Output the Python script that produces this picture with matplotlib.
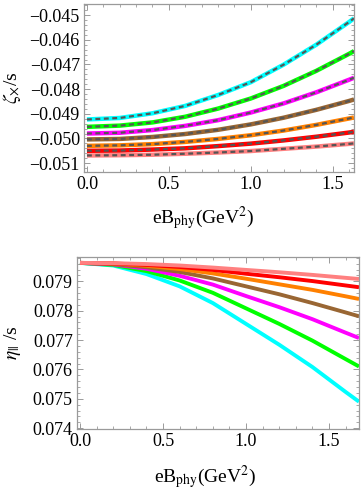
import matplotlib
matplotlib.use("Agg")
import matplotlib.pyplot as plt
from matplotlib.ticker import MultipleLocator, FuncFormatter

plt.rcParams['font.family'] = ['Liberation Serif', 'DejaVu Serif']
plt.rcParams['mathtext.fontset'] = 'stix'

# ---- data: top panel (zeta_x / s) ----
x_top = [0.0, 0.2, 0.4, 0.6, 0.8, 1.0, 1.2, 1.4, 1.6, 1.63]
zeta_pink    = [-0.05069, -0.05068, -0.05066, -0.05062, -0.05057, -0.05051, -0.05042, -0.05033, -0.05022, -0.05020]
zeta_red     = [-0.05050, -0.05049, -0.05045, -0.05040, -0.05031, -0.05021, -0.05008, -0.04993, -0.04976, -0.04973]
zeta_orange  = [-0.05030, -0.05028, -0.05023, -0.05014, -0.05002, -0.04987, -0.04968, -0.04945, -0.04919, -0.04915]
zeta_brown   = [-0.05004, -0.05002, -0.04994, -0.04982, -0.04965, -0.04943, -0.04916, -0.04884, -0.04848, -0.04842]
zeta_magenta = [-0.04980, -0.04977, -0.04966, -0.04949, -0.04926, -0.04895, -0.04858, -0.04813, -0.04762, -0.04754]
zeta_green   = [-0.04953, -0.04948, -0.04935, -0.04912, -0.04879, -0.04838, -0.04787, -0.04726, -0.04657, -0.04646]
zeta_cyan    = [-0.04923, -0.04917, -0.04898, -0.04868, -0.04824, -0.04772, -0.04701, -0.04620, -0.04528, -0.04513]

# ---- data: bottom panel (eta_par / s) ----
x_bot = [0.0, 0.2, 0.4, 0.6, 0.8, 1.0, 1.2, 1.4, 1.6, 1.68]
eta_pink    = [0.07963, 0.07962, 0.07959, 0.07954, 0.07947, 0.07939, 0.07931, 0.07922, 0.07912, 0.07908]
eta_red     = [0.07963, 0.07961, 0.07956, 0.07949, 0.07939, 0.07926, 0.07914, 0.07901, 0.07886, 0.07880]
eta_orange  = [0.07963, 0.07961, 0.07953, 0.07942, 0.07927, 0.07909, 0.07890, 0.07871, 0.07849, 0.07840]
eta_brown   = [0.07963, 0.07959, 0.07948, 0.07932, 0.07910, 0.07883, 0.07856, 0.07826, 0.07794, 0.07781]
eta_magenta = [0.07963, 0.07958, 0.07943, 0.07919, 0.07889, 0.07850, 0.07812, 0.07771, 0.07725, 0.07707]
eta_green   = [0.07963, 0.07956, 0.07935, 0.07903, 0.07861, 0.07808, 0.07755, 0.07698, 0.07635, 0.07610]
eta_cyan    = [0.07963, 0.07954, 0.07925, 0.07883, 0.07826, 0.07755, 0.07684, 0.07608, 0.07523, 0.07490]

colors = ['#FF8080', '#FF0000', '#FF8000', '#996633', '#FF00FF', '#00FF00', '#00FFFF']
top_series = [zeta_pink, zeta_red, zeta_orange, zeta_brown, zeta_magenta, zeta_green, zeta_cyan]
bot_series = [eta_cyan, eta_green, eta_magenta, eta_brown, eta_orange, eta_red, eta_pink]
bot_colors = colors[::-1]

top_yticks = [-0.051, -0.050, -0.049, -0.048, -0.047, -0.046, -0.045]
bot_yticks = [0.074, 0.075, 0.076, 0.077, 0.078, 0.079]
xticks = [0.0, 0.5, 1.0, 1.5]

W, H = 363, 495
fig = plt.figure(figsize=(W / 100, H / 100), dpi=100)

frame_col = '#9a9a9a'

def yfmt(v, pos):
    return f'{v:.3f}'.replace('-', '\u2212')

def style(ax):
    for s in ax.spines.values():
        s.set_color(frame_col)
        s.set_linewidth(0.9)
    ax.tick_params(which='both', direction='in', top=True, right=True,
                   color=frame_col, labelsize=13, labelcolor='black', pad=3)
    ax.tick_params(which='major', length=4, width=0.7)
    ax.tick_params(which='minor', length=2, width=0.6)
    ax.xaxis.set_minor_locator(MultipleLocator(0.1))
    ax.set_xticks(xticks)
    ax.xaxis.set_major_formatter(FuncFormatter(lambda v, p: f'{v:.1f}'))
    ax.yaxis.set_major_formatter(FuncFormatter(yfmt))
    ax.yaxis.set_minor_locator(MultipleLocator(0.0002))

# top panel
ax1 = fig.add_axes([84 / W, 1 - 172 / H, 270 / W, 168 / H])
for ys, c in zip(top_series, colors):
    ax1.plot(x_top, ys, color=c, lw=3.2, solid_capstyle='butt')
    ax1.plot(x_top, ys, color='#555555', lw=1.6, dashes=(2.2, 1.6))
ax1.set_xlim(-0.018, 1.63)
ax1.set_ylim(-0.05136, -0.04455)
ax1.set_yticks(top_yticks)
style(ax1)
ax1.set_ylabel(r'$\zeta_{\times}$/s', fontsize=14)
ax1.yaxis.set_label_coords(-0.225, 0.5)
ax1.set_xlabel(r'eB$_{\rm phy}$(GeV$^2$)', fontsize=14)
ax1.xaxis.set_label_coords(0.44, -0.19)

# bottom panel
ax2 = fig.add_axes([77 / W, 1 - 429 / H, 282 / W, 172 / H])
for ys, c in zip(bot_series, bot_colors):
    ax2.plot(x_bot, ys, color=c, lw=2.8, solid_capstyle='butt')
ax2.set_xlim(-0.018, 1.68)
ax2.set_ylim(0.07397, 0.07983)
ax2.set_yticks(bot_yticks)
style(ax2)
ax2.set_ylabel(r'$\eta_{||}$ /s', fontsize=14)
ax2.yaxis.set_label_coords(-0.19, 0.5)
ax2.set_xlabel(r'eB$_{\rm phy}$(GeV$^2$)', fontsize=14)
ax2.xaxis.set_label_coords(0.454, -0.2)

fig.savefig('out.png', dpi=100)
